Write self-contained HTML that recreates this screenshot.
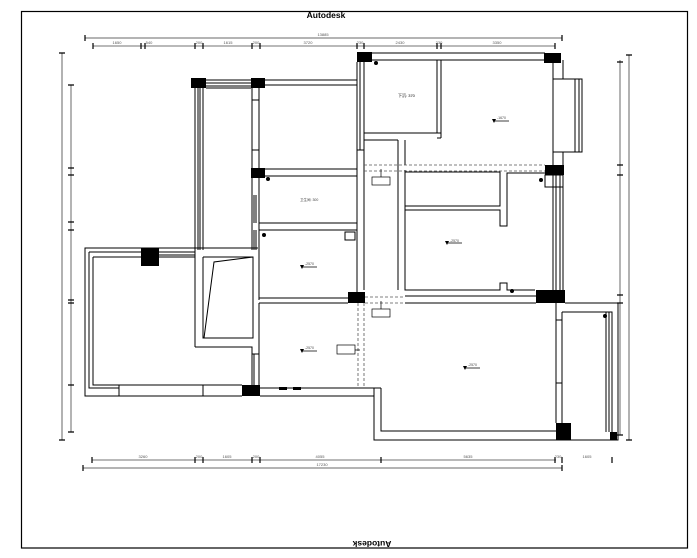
<!DOCTYPE html>
<html><head><meta charset="utf-8"><style>
html,body{margin:0;padding:0;background:#fff;}
svg{display:block;}
text{font-family:"Liberation Sans",sans-serif;}
</style></head><body>
<svg width="697" height="558" viewBox="0 0 697 558" xmlns="http://www.w3.org/2000/svg">
<rect x="0" y="0" width="697" height="558" fill="#fff"/>
<rect x="21.5" y="11.5" width="666" height="536.5" fill="none" stroke="#000" stroke-width="1.2"/>
<text x="326" y="18" font-size="8.5" font-weight="bold" text-anchor="middle">Autodesk</text>
<text x="0" y="0" font-size="8.5" font-weight="bold" text-anchor="middle" transform="translate(372,541) rotate(180)">Autodesk</text>

<g stroke="#888" stroke-width="1.3" fill="none">
<line x1="85" y1="38" x2="562" y2="38"/>
<line x1="83" y1="468" x2="562" y2="468"/>
<line x1="62" y1="53" x2="62" y2="440"/>
<line x1="629" y1="55" x2="629" y2="440"/>
</g>
<g stroke="#444" stroke-width="0.8" fill="none">
<line x1="93" y1="46" x2="555" y2="46"/>
<line x1="92" y1="460" x2="556" y2="460"/>
<line x1="71" y1="85" x2="71" y2="432"/>
<line x1="620" y1="60" x2="620" y2="435"/>
</g>
<g stroke="#000" stroke-width="1.2">
<path d="M93 43v6M141 43v6M145 43v6M195 43v6M203 43v6M252 43v6M260 43v6M357 43v6M364 43v6M437 43v6M441 43v6M555 43v6"/>
<path d="M92 457v6M195 457v6M203 457v6M252 457v6M260 457v6M381 457v6M555 457v6M562 457v6M612 457v6"/>
<path d="M68 85h6M68 168h6M68 175h6M68 222h6M68 230h6M68 300h6M68 303h6M68 385h6M68 432h6"/>
<path d="M617 62h6M617 165h6M617 175h6M617 295h6M617 303h6M617 435h6"/>
<path d="M85 35v6M562 35v6M83 465v6M562 465v6M59 53h6M59 440h6M626 55h6M626 440h6"/>
</g>
<g font-size="4" fill="#555" text-anchor="middle">
<text x="117" y="44">1650</text><text x="149" y="44">540</text><text x="199" y="44">200</text><text x="228" y="44">1615</text><text x="256" y="44">200</text><text x="308" y="44">3720</text><text x="360" y="44">230</text><text x="400" y="44">2430</text><text x="439" y="44">230</text><text x="497" y="44">3350</text>
<text x="323" y="36">13885</text><text x="322" y="466">17230</text>
<text x="143" y="458">3260</text><text x="199" y="458">200</text><text x="227" y="458">1605</text><text x="256" y="458">200</text><text x="320" y="458">4055</text><text x="468" y="458">5635</text><text x="558" y="458">230</text><text x="587" y="458">1605</text>
</g>

<g stroke="#000" stroke-width="1" fill="none">
<path d="M195 88V250M198 88V250M200 88V250M203 88V250"/>
<path d="M206 80H251M206 83H251M206 86H251M206 88H251"/>
<path d="M265 80H357M265 85H357"/>
<rect x="259" y="85" width="98" height="84"/>
<rect x="259" y="176" width="98" height="47"/>
<rect x="259" y="230" width="98" height="68"/>
<rect x="345" y="232" width="10" height="8"/>
<path d="M252 88V250M259 88V300M252 178V183M252 195V230M254 195V223M256 195V223M252 235V250M254 230V250M256 230V250"/>
<path d="M252 100h7M252 150h7"/>
<path d="M357 62V150M360 62V150M364 62V133H437M441 60V138"/>
<path d="M372 53H545M372 60H545"/>
<rect x="364" y="60" width="73" height="73"/>
<path d="M357 150H364M357 169V290M364 133V290M364 140H398M398 140V290M405 140V165M405 170V290"/>
<path d="M357 150V169"/>
<path d="M441 60H553V165M437 138H441M405 133H441M553 60V79H582V152H563V165M563 60V79M575 79V152M579 79V152M553 79H575M553 152H575"/>
<path d="M405 172H500V206H405M405 210H500V226H507V173H553"/>
<path d="M405 210V290H500V283H507V290H535"/>
<path d="M553 175V290M556 175V290M560 175V290M563 175V290"/>
<rect x="545" y="175" width="18" height="12"/>
<path d="M195 347V248H85V396H242M89 252V388H119M89 252H141M93 257V385H119M93 257H141M159 252H195M159 255H195M159 257H195"/>
<path d="M119 385H242M119 385V396M203 385V396"/>
<path d="M195 248H258M195 347H252V354H259M203 257V338H253V257H203"/>
<path d="M204 338L214 262L253 257"/>
<path d="M252 347V385M254 354V385M259 303V388"/>
<path d="M259 303H348M259 298H348M260 388H374V440H618V303H565M260 396H374M381 388V431H556M405 303H536M405 296H536"/>
<path d="M556 303V423M562 312V432M562 312H612V432M606 312V432M609 312V432"/>
<path d="M381 388H365"/>
<path d="M556 320H562M556 383H562"/>
</g>
<g stroke="#555" stroke-width="0.8" stroke-dasharray="3,2" fill="none">
<path d="M364 165H545M364 171H545M365 297H405M365 303H405M358 303V388M364 303V388"/>
</g>
<g fill="#000">
<rect x="191" y="78" width="15" height="10"/>
<rect x="251" y="78" width="14" height="10"/>
<rect x="357" y="52" width="15" height="10"/>
<rect x="544" y="53" width="17" height="10"/>
<rect x="251" y="168" width="14" height="10"/>
<rect x="545" y="165" width="19" height="10"/>
<rect x="141" y="248" width="18" height="18"/>
<rect x="348" y="292" width="17" height="11"/>
<rect x="536" y="290" width="29" height="13"/>
<rect x="242" y="385" width="18" height="11"/>
<rect x="556" y="423" width="15" height="17"/>
<rect x="610" y="432" width="7" height="8"/>
<rect x="279" y="387" width="8" height="3"/>
<rect x="293" y="387" width="8" height="3"/>
<circle cx="376" cy="63" r="2"/><circle cx="268" cy="179" r="2"/><circle cx="264" cy="235" r="2"/><circle cx="541" cy="180" r="2"/><circle cx="512" cy="291" r="2"/><circle cx="605" cy="316" r="2"/>
</g>
<g stroke="#000" stroke-width="0.7" fill="none">
<rect x="372" y="177" width="18" height="8"/><rect x="372" y="309" width="18" height="8"/><rect x="337" y="345" width="18" height="9"/>
<path d="M381 177V169M381 309V301M355 350H360"/>
<path d="M493 121h16M301 267h16M446 243h16M301 351h16M464 368h16"/>
</g>
<g fill="#000">
<path d="M492 119h4l-2 4z"/><path d="M300 265h4l-2 4z"/><path d="M445 241h4l-2 4z"/><path d="M300 349h4l-2 4z"/><path d="M463 366h4l-2 4z"/>
</g>
<g font-size="3.5" fill="#444">
<text x="398" y="97" font-size="4" fill="#000">下沉: 370</text>
<text x="300" y="201">卫生间: 300</text>
<text x="497" y="119">-1670</text><text x="305" y="265">-2570</text><text x="450" y="242">-2570</text><text x="305" y="349">-2570</text><text x="468" y="366">-2570</text>
</g>
</svg>
</body></html>
